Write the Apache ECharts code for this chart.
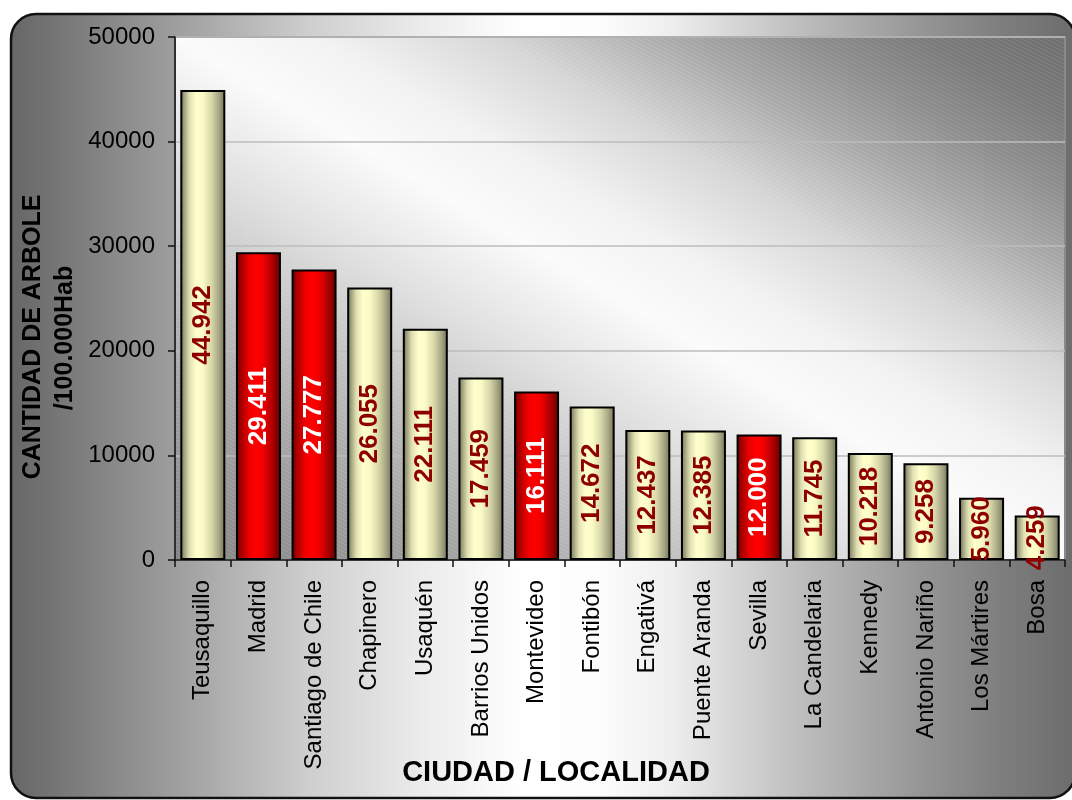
<!DOCTYPE html>
<html>
<head>
<meta charset="utf-8">
<script src="https://cdn.jsdelivr.net/npm/echarts@6/dist/echarts.min.js"></script>
<style>
html,body{margin:0;padding:0;background:#fff;}
#chart{width:1072px;height:800px;}
</style>
</head>
<body>
<div id="chart"></div>
<script>
// ---- data ----
const categories = ['Teusaquillo','Madrid','Santiago de Chile','Chapinero','Usaquén','Barrios Unidos','Montevideo','Fontibón','Engativá','Puente Aranda','Sevilla','La Candelaria','Kennedy','Antonio Nariño','Los Mártires','Bosa'];
const values = [44942, 29411, 27777, 26055, 22111, 17459, 16111, 14672, 12437, 12385, 12000, 11745, 10218, 9258, 5960, 4259];
const cityNames = ['Madrid','Santiago de Chile','Montevideo','Sevilla'];
const yTicks = [0, 10000, 20000, 30000, 40000, 50000];
const yTitleLines = ['CANTIDAD DE ARBOLE', '/100.000Hab'];
const xTitle = 'CIUDAD / LOCALIDAD';

// ---- layout ----
const W = 1072, H = 800;
const G = {left: 175, top: 37, right: 1065, bottom: 560};
const FONT = '"Liberation Sans", Arial, sans-serif';

function fmt(v){ return String(v).replace(/\B(?=(\d{3})+(?!\d))/g, '.'); }

const creamGrad = new echarts.graphic.LinearGradient(0,0,1,0,[
  {offset:0, color:'#6c6c4e'},{offset:0.08, color:'#9c9c7a'},{offset:0.2, color:'#dedeb2'},
  {offset:0.35, color:'#ffffcc'},{offset:0.5, color:'#fbfbc7'},{offset:0.7, color:'#d6d6a8'},
  {offset:0.88, color:'#a0a080'},{offset:1, color:'#6e6e52'}]);
const redGrad = new echarts.graphic.LinearGradient(0,0,1,0,[
  {offset:0, color:'#5c0000'},{offset:0.1, color:'#a00000'},{offset:0.3, color:'#ee0000'},
  {offset:0.45, color:'#ff0000'},{offset:0.6, color:'#f20000'},{offset:0.8, color:'#b00000'},
  {offset:1, color:'#5c0000'}]);

const barData = values.map((v,i)=>{
  const isCity = cityNames.includes(categories[i]);
  return {
    value: v,
    itemStyle: {color: isCity ? redGrad : creamGrad},
    label: {color: isCity ? '#ffffff' : '#8e0000'}
  };
});

// outer background gradient (horizontal)
const outerGrad = new echarts.graphic.LinearGradient(0,0,1,0,[
  {offset:0, color:'#666666'},{offset:0.15, color:'#9c9c9c'},{offset:0.28, color:'#cecece'},
  {offset:0.38, color:'#eaeaea'},{offset:0.48, color:'#ffffff'},{offset:0.55, color:'#fdfdfd'},
  {offset:0.62, color:'#eeeeee'},{offset:0.74, color:'#bebebe'},{offset:0.85, color:'#979797'},
  {offset:0.93, color:'#7e7e7e'},{offset:1, color:'#6c6c6c'}]);

// plot area gradient, isolines parallel to TL-BR diagonal
const pw = G.right - G.left, ph = G.bottom - G.top;
const dl = Math.sqrt(pw*pw + ph*ph);
const proj = (2*pw*ph)/dl;
const ex = G.right - ph*proj/dl, ey = G.top + pw*proj/dl;
const plotGrad = new echarts.graphic.LinearGradient(G.right, G.top, ex, ey, [
  {offset:0, color:'#6e6e6e'},{offset:0.08, color:'#7a7a7a'},{offset:0.15, color:'#8e8e8e'},
  {offset:0.22, color:'#a8a8a8'},{offset:0.32, color:'#d6d6d6'},{offset:0.42, color:'#f2f2f2'},
  {offset:0.5, color:'#fbfbfb'},{offset:0.6, color:'#e2e2e2'},{offset:0.72, color:'#c0c0c0'},
  {offset:0.85, color:'#a0a0a0'},{offset:1, color:'#848484'}], true);

// hatch pattern
const pc = document.createElement('canvas');
pc.width = 8; pc.height = 4;
const px = pc.getContext('2d');
px.strokeStyle = 'rgba(255,255,255,0.12)';
px.lineWidth = 1;
px.beginPath(); px.moveTo(-8,-4); px.lineTo(16,8); px.moveTo(-8,0); px.lineTo(8,8); px.moveTo(0,-4); px.lineTo(16,4); px.stroke();

const chart = echarts.init(document.getElementById('chart'), null, {renderer:'canvas', width:W, height:H});

chart.setOption({
  animation: false,
  backgroundColor: '#ffffff',
  graphic: [
    {type:'rect', z:-20, shape:{x:11, y:14, width:1064, height:784, r:25},
     style:{fill: outerGrad, stroke:'#111', lineWidth:2.5}},
    {type:'rect', z:-15, shape:{x:G.left, y:G.top, width:pw, height:ph},
     style:{fill: plotGrad}},
    {type:'rect', z:-14, shape:{x:G.left, y:G.top, width:pw, height:ph},
     style:{fill: {image: pc, repeat:'repeat'}, stroke:'#8a8a8a', lineWidth:2}},
    {type:'text', z:10, x:33, y:337, rotation:Math.PI/2,
     style:{text:yTitleLines[0], font:'bold 25px '+FONT, fill:'#000', align:'center', verticalAlign:'middle'}},
    {type:'text', z:10, x:65, y:338, rotation:Math.PI/2,
     style:{text:yTitleLines[1], font:'bold 25px '+FONT, fill:'#000', align:'center', verticalAlign:'middle'}},
    {type:'text', z:10, x:556, y:773,
     style:{text:xTitle, font:'bold 29px '+FONT, fill:'#000', align:'center', verticalAlign:'middle'}}
  ],
  grid: {left: G.left, top: G.top, right: W - G.right, bottom: H - G.bottom, containLabel:false},
  xAxis: {
    type:'category', data: categories,
    axisLine:{show:true, lineStyle:{color:'#111', width:1.5}},
    axisTick:{show:true, alignWithLabel:false, length:7, lineStyle:{color:'#111', width:1.5}},
    axisLabel:{rotate:90, margin:20, fontSize:24, fontFamily:FONT, color:'#000', interval:0},
    splitLine:{show:false}
  },
  yAxis: {
    type:'value', min: yTicks[0], max: yTicks[yTicks.length-1], interval: yTicks[1]-yTicks[0],
    axisLine:{show:true, lineStyle:{color:'#111', width:1.5}},
    axisTick:{show:true, length:7, lineStyle:{color:'#111', width:1.5}},
    axisLabel:{margin:20, fontSize:24, fontFamily:FONT, color:'#000', formatter: v => String(v)},
    splitLine:{show:true, lineStyle:{color:'#bdbdbd', width:1.5}}
  },
  series: [{
    type:'bar', data: barData, barWidth: 45,
    itemStyle:{borderColor:'#000', borderWidth:2},
    label:{show:true, position:'inside', rotate:90, fontSize:26, fontWeight:'bold', fontFamily:FONT,
      formatter: p => fmt(p.value)}
  }]
});
</script>
</body>
</html>
